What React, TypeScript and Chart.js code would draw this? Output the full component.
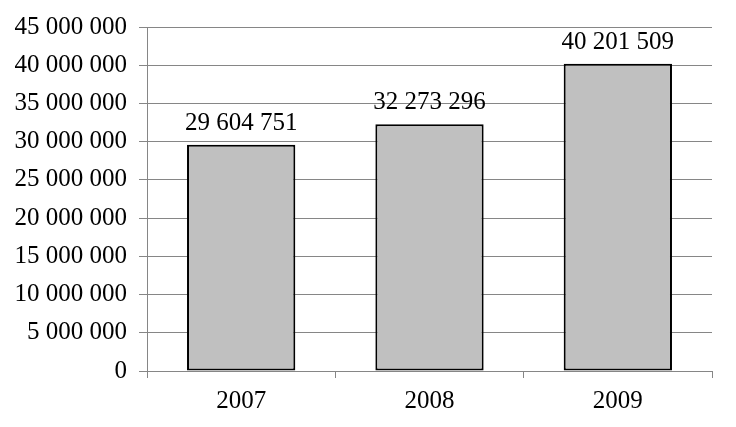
import React, { useEffect, useRef } from "react";
import { Chart, registerables } from "chart.js";

Chart.register(...registerables);

const categories = ["2007", "2008", "2009"];
const values = [29604751, 32273296, 40201509];
const yMin = 0;
const yMax = 45000000;
const yStep = 5000000;

const FONT = "'Liberation Serif', 'Times New Roman', serif";

const fmt = (v: number) => String(Math.round(v)).replace(/\B(?=(\d{3})+(?!\d))/g, " ");

const labelPlugin = {
  id: "barLabels",
  afterDatasetsDraw(chart: any) {
    const ctx = chart.ctx;
    const meta = chart.getDatasetMeta(0);
    ctx.save();
    ctx.font = `25px ${FONT}`;
    ctx.fillStyle = "#000";
    ctx.textAlign = "center";
    ctx.textBaseline = "alphabetic";
    meta.data.forEach((bar: any, i: number) => {
      ctx.fillText(fmt(values[i]), bar.x, bar.y - 15);
    });
    ctx.restore();
  },
};

export default function App() {
  const ref = useRef<HTMLCanvasElement>(null);
  useEffect(() => {
    if (!ref.current) return;
    const chart = new Chart(ref.current, {
      type: "bar",
      data: {
        labels: categories,
        datasets: [
          {
            data: values,
            backgroundColor: "#C0C0C0",
            borderColor: "#000000",
            borderWidth: 2,
            borderSkipped: false,
            categoryPercentage: 1,
            barPercentage: 0.575,
          },
        ],
      },
      options: {
        responsive: false,
        animation: false,
        layout: { padding: { top: 24, right: 24, left: 0, bottom: 0 } },
        plugins: { legend: { display: false }, tooltip: { enabled: false } },
        scales: {
          x: {
            grid: {
              display: true,
              drawOnChartArea: false,
              drawTicks: true,
              tickLength: 7,
              color: "#868686",
              offset: true,
            },
            border: { display: true, color: "#868686", width: 1 },
            ticks: {
              font: { family: FONT, size: 25 },
              color: "#000",
              padding: 8,
            },
            afterFit: (s: any) => {
              s.height = 56;
            },
          },
          y: {
            min: yMin,
            max: yMax,
            grid: {
              color: "#868686",
              tickLength: 8,
              drawTicks: true,
            },
            border: { display: true, color: "#868686", width: 1 },
            ticks: {
              stepSize: yStep,
              font: { family: FONT, size: 25 },
              color: "#000",
              padding: 12,
              callback: (v: any) => fmt(Number(v)),
            },
            afterFit: (s: any) => {
              s.width = 147;
            },
          },
        },
      },
      plugins: [labelPlugin],
    });
    return () => chart.destroy();
  }, []);
  return (
    <div style={{ position: "fixed", left: 0, top: 0, width: 736, height: 427, background: "#fff" }}>
      <canvas ref={ref} width={736} height={427} style={{ width: 736, height: 427, display: "block" }} />
    </div>
  );
}
